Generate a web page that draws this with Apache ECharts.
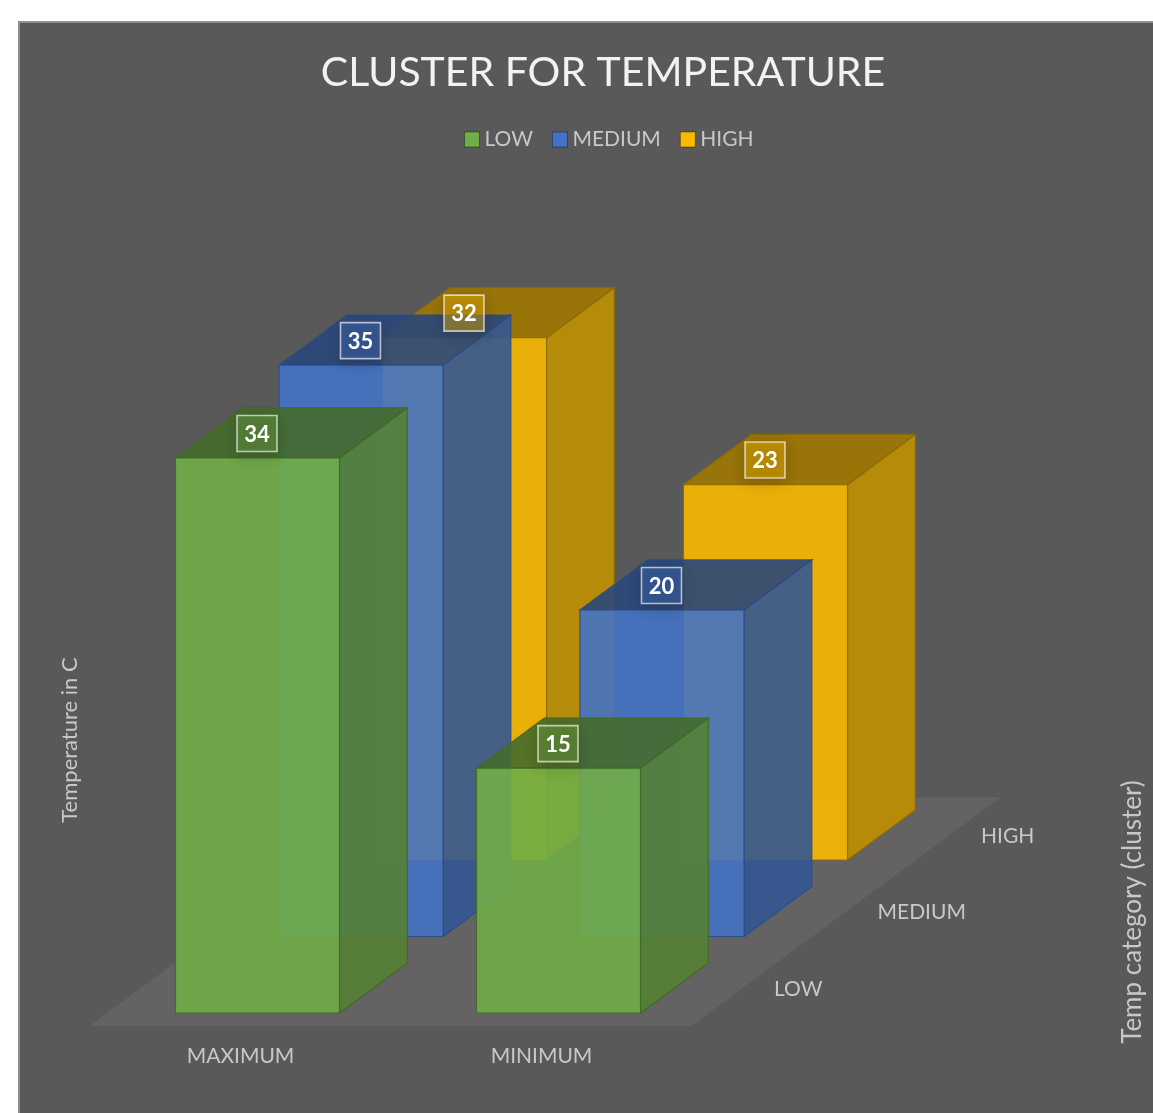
<!DOCTYPE html>
<html>
<head>
<meta charset="utf-8">
<title>Cluster for temperature</title>
<script src="https://cdn.jsdelivr.net/npm/echarts@6/dist/echarts.min.js"></script>
<style>
    html, body { margin: 0; padding: 0; background: #fff; }
    #main { width: 1153px; height: 1113px; }
</style>
</head>
<body>
<div id="main"></div>
<script>
var categories = ['MAXIMUM', 'MINIMUM'];
var clusterNames = ['LOW', 'MEDIUM', 'HIGH'];
var lowValues = [34, 15];
var mediumValues = [35, 20];
var highValues = [32, 23];
var clusterValues = [lowValues, mediumValues, highValues];

// front / side / top / edge per cluster
var faceColors = [
    {front: '#70AD47', side: '#548235', top: '#456B2C', edge: '#3F6A26'},
    {front: '#4472C4', side: '#335693', top: '#2A477A', edge: '#2A4C8A'},
    {front: '#F9B900', side: '#BF9000', top: '#9E7700', edge: '#8A6A08'}
];
var labelColors = ['rgba(112,173,71,0.4)', 'rgba(68,114,196,0.4)', 'rgba(255,192,0,0.4)'];

// oblique projection of the depth axis, in pixels
var depthStepX = 103.5;
var depthStepY = -76.5;
var barRatio = 0.545;
var barDepth = 0.655;
var faceOpacity = 0.9;

function barPoints(params, api, depth) {
    var idx = api.value(0);
    var top = api.coord([idx, api.value(1)]);
    var bottom = api.coord([idx, 0]);
    var w = api.size([1, 0])[0] * barRatio;
    var ox = depth * depthStepX;
    var oy = depth * depthStepY;
    return {
        x0: top[0] - w / 2 + ox,
        x1: top[0] + w / 2 + ox,
        yTop: top[1] + oy,
        yBottom: bottom[1] + oy,
        cx: top[0] + ox
    };
}

function barRenderer(depth) {
    return function (params, api) {
        var p = barPoints(params, api, depth);
        var c = faceColors[depth];
        var dx = depthStepX * barDepth;
        var dy = depthStepY * barDepth;
        function face(points, fill) {
            return {
                type: 'polygon',
                shape: {points: points},
                style: {fill: fill, stroke: c.edge, lineWidth: 1.2, opacity: faceOpacity}
            };
        }
        return {
            type: 'group',
            children: [
                face([[p.x1, p.yTop], [p.x1 + dx, p.yTop + dy], [p.x1 + dx, p.yBottom + dy], [p.x1, p.yBottom]], c.side),
                face([[p.x0, p.yTop], [p.x0 + dx, p.yTop + dy], [p.x1 + dx, p.yTop + dy], [p.x1, p.yTop]], c.top),
                face([[p.x0, p.yTop], [p.x1, p.yTop], [p.x1, p.yBottom], [p.x0, p.yBottom]], c.front)
            ]
        };
    };
}

function labelRenderer(depth) {
    return function (params, api) {
        var p = barPoints(params, api, depth);
        var cy = p.yTop - 24.5;
        return {
            type: 'group',
            children: [
                {
                    type: 'rect',
                    shape: {x: p.cx - 20.5, y: cy - 18, width: 40, height: 36},
                    style: {
                        fill: labelColors[depth],
                        stroke: 'rgba(255,255,255,0.65)',
                        lineWidth: 1.6,
                        shadowColor: 'rgba(0,0,0,0.35)',
                        shadowBlur: 14,
                        shadowOffsetY: 4
                    }
                },
                {
                    type: 'text',
                    style: {
                        x: p.cx - 0.5,
                        y: cy + 1,
                        text: String(api.value(1)),
                        align: 'center',
                        verticalAlign: 'middle',
                        fill: '#fff',
                        font: 'bold 22px Lato'
                    }
                }
            ]
        };
    };
}

function floorRenderer(params, api) {
    var left = api.coord([0, 0]);
    var right = api.coord([categories.length - 1, 0]);
    var band = api.size([1, 0])[0];
    var x0 = left[0] - band / 2;
    var x1 = right[0] + band / 2;
    var front = -0.17;
    var back = 2.82;
    return {
        type: 'polygon',
        shape: {
            points: [
                [x0 + front * depthStepX, left[1] + front * depthStepY],
                [x1 + front * depthStepX, left[1] + front * depthStepY],
                [x1 + back * depthStepX, left[1] + back * depthStepY],
                [x0 + back * depthStepX, left[1] + back * depthStepY]
            ]
        },
        style: {fill: '#646262'}
    };
}

function depthLabelRenderer(params, api) {
    var end = api.coord([categories.length - 1, 0]);
    var band = api.size([1, 0])[0];
    return {
        type: 'text',
        style: {
            x: end[0] + band / 2 + 65 + params.dataIndex * depthStepX,
            y: end[1] - 24 + params.dataIndex * depthStepY,
            text: clusterNames[params.dataIndex],
            align: 'left',
            verticalAlign: 'middle',
            fill: '#c8c8c8',
            font: '21px Lato'
        }
    };
}

var series = [
    {type: 'custom', name: 'floor', z: 1, silent: true, clip: false, renderItem: floorRenderer, data: [[0, 0]]},
    {
        type: 'custom', name: 'depth labels', z: 1, silent: true, clip: false,
        renderItem: depthLabelRenderer,
        data: clusterNames.map(function (n, i) { return [0, i]; })
    }
];

clusterNames.forEach(function (name, depth) {
    var rows = categories.map(function (c, i) { return [i, clusterValues[depth][i]]; });
    series.push({
        type: 'custom',
        name: name,
        z: 5 - depth,
        clip: false,
        itemStyle: {color: faceColors[depth].front},
        encode: {x: 0, y: 1},
        renderItem: barRenderer(depth),
        data: rows
    });
    series.push({
        type: 'custom',
        name: name,
        z: 10,
        silent: true,
        clip: false,
        encode: {x: 0, y: 1},
        renderItem: labelRenderer(depth),
        data: rows
    });
});

var chart = echarts.init(document.getElementById('main'));
chart.setOption({
    animation: false,
    backgroundColor: '#fff',
    textStyle: {fontFamily: 'Lato'},
    title: {
        text: 'CLUSTER FOR TEMPERATURE',
        left: 598,
        top: 47,
        textAlign: 'center',
        textStyle: {color: '#f2f2f2', fontSize: 41, fontWeight: 'normal', fontFamily: 'Lato'}
    },
    legend: {
        data: clusterNames,
        left: 459,
        top: 124,
        itemWidth: 15,
        itemHeight: 15,
        itemGap: 19,
        icon: 'rect',
        inactiveColor: '#888',
        selectedMode: false,
        itemStyle: {borderColor: 'rgba(0,0,0,0.35)', borderWidth: 1},
        textStyle: {color: '#c8c8c8', fontSize: 21, fontFamily: 'Lato', padding: [0, 0, 0, 0]}
    },
    grid: {left: 107, right: 444, top: 360, bottom: 100},
    xAxis: {
        type: 'category',
        data: categories,
        axisLine: {show: false},
        axisTick: {show: false},
        axisLabel: {color: '#c8c8c8', fontSize: 21, fontFamily: 'Lato', margin: 33, padding: [0, 34, 0, 0]}
    },
    yAxis: {type: 'value', min: 0, max: 40, interval: 10, show: false},
    graphic: {
        elements: [
            {
                type: 'rect', z: -10, silent: true,
                shape: {x: 19, y: 22, width: 1140, height: 1100},
                style: {fill: '#595959', stroke: '#8f8f8f', lineWidth: 2}
            },
            {
                type: 'text', z: 20, silent: true, x: 70, y: 740, rotation: Math.PI / 2,
                style: {text: 'Temperature in C', align: 'center', verticalAlign: 'middle', fill: '#c8c8c8', font: '22px Lato'}
            },
            {
                type: 'text', z: 20, silent: true, x: 1133, y: 912, rotation: Math.PI / 2,
                style: {text: 'Temp category (cluster)', align: 'center', verticalAlign: 'middle', fill: '#c8c8c8', font: '26px Lato'}
            }
        ]
    },
    series: series
});
</script>
</body>
</html>
